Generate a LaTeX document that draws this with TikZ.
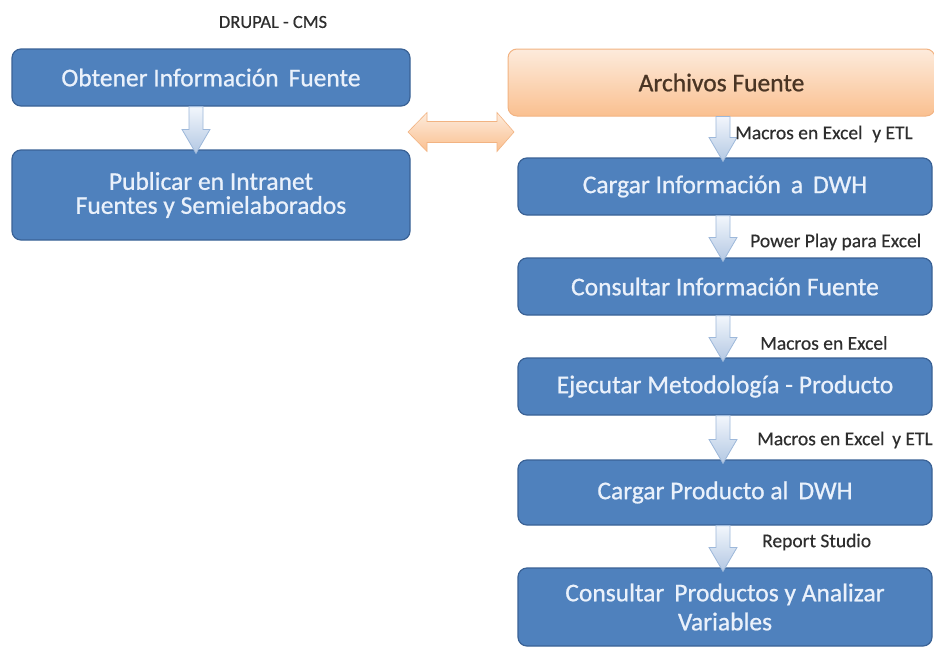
\documentclass[tikz,border=0pt]{standalone}
\usepackage{fontspec}
\setmainfont{Carlito}
\newfontfamily\boxfont{Carlito}[FakeBold=0.8]
\newfontfamily\notefont{Carlito}[FakeBold=0.4]
\usetikzlibrary{calc}

\definecolor{boxblue}{HTML}{4F81BD}
\definecolor{boxedge}{HTML}{3A6296}
\definecolor{boxtext}{HTML}{EAF1FB}
\definecolor{orgtop}{HTML}{FDEBDC}
\definecolor{orgbot}{HTML}{FAC090}
\definecolor{orgedge}{HTML}{F2B382}
\definecolor{orgtext}{HTML}{4A3524}
\definecolor{arrtop}{HTML}{F2F6FC}
\definecolor{arrbot}{HTML}{B3C8E3}
\definecolor{arredge}{HTML}{9DB8DA}
\definecolor{labgray}{HTML}{2E2E2E}

\tikzset{
  bluebox/.style={draw=boxedge, line width=1.2pt, fill=boxblue,
    rounded corners=9pt, text=boxtext, align=center, inner sep=0pt,
    font=\boxfont\fontsize{25.5}{24}\selectfont},
  orangebox/.style={draw=orgedge, line width=1pt, top color=orgtop,
    bottom color=orgbot, rounded corners=9pt, text=orgtext,
    inner sep=0pt, font=\boxfont\fontsize{25.5}{24}\selectfont},
  steplabel/.style={text=labgray, inner sep=0pt, anchor=west,
    font=\notefont\fontsize{19.5}{20}\selectfont},
  blockarrow/.style={draw=arredge, line width=0.8pt, top color=arrtop,
    bottom color=arrbot},
  sidearrow/.style={draw=orgedge, line width=0.6pt, top color=orgtop,
    bottom color=orgbot}
}

% down block arrow from the bottom of #1 into the top of #2, shifted by #3
\newcommand\flowdown[3]{%
  \draw[blockarrow] let \p1=(#1.south), \p2=(#2.north) in
    ($(\x2+#3-7pt,\y1)$) -- ($(\x2+#3+7pt,\y1)$)
    -- ($(\x2+#3+7pt,\y2+20pt)$) -- ($(\x2+#3+14pt,\y2+20pt)$)
    -- ($(\x2+#3,\y2-4pt)$)
    -- ($(\x2+#3-14pt,\y2+20pt)$) -- ($(\x2+#3-7pt,\y2+20pt)$) -- cycle;}

\begin{document}
\begin{tikzpicture}[x=1pt, y=-1pt]
  \useasboundingbox (0,0) rectangle (934,648);
  \clip (0,0) rectangle (934,648);
  \fill[white] (0,0) rectangle (934,648);

  % left column
  \node[text=labgray, font=\notefont\fontsize{18.5}{20}\selectfont] (drupal) at (273,22) {DRUPAL - CMS};
  \node[bluebox, minimum width=398pt, minimum height=57pt] (obtener) at (211,77.5)
    {Obtener Información\, Fuente};
  \node[bluebox, minimum width=398pt, minimum height=90pt] (publicar) at (211,195)
    {Publicar en Intranet\\Fuentes y Semielaborados};

  % right column
  \node[orangebox, minimum width=427pt, minimum height=67pt] (archivos) at (721.5,82.5)
    {\raisebox{-11pt}{Archivos Fuente}};
  \node[bluebox, minimum width=414pt, minimum height=57pt] (cargarinfo) at (725,186.5)
    {Cargar Información\, a\, DWH};
  \node[bluebox, minimum width=414pt, minimum height=57pt] (consultarinfo) at (725,286.5)
    {Consultar Información Fuente};
  \node[bluebox, minimum width=414pt, minimum height=57pt] (ejecutar) at (725,386.5)
    {Ejecutar Metodología - Producto};
  \node[bluebox, minimum width=414pt, minimum height=65pt] (cargarprod) at (725,492.5)
    {Cargar Producto al\, DWH};
  \node[bluebox, minimum width=414pt, minimum height=78pt,
        font=\boxfont\fontsize{25.5}{29}\selectfont] (analizar) at (725,607)
    {Consultar\, Productos y Analizar\\Variables};

  % flow arrows
  \flowdown{obtener}{publicar}{-15pt}
  \flowdown{archivos}{cargarinfo}{-2pt}
  \flowdown{cargarinfo}{consultarinfo}{-2pt}
  \flowdown{consultarinfo}{ejecutar}{-2pt}
  \flowdown{ejecutar}{cargarprod}{-2pt}
  \flowdown{cargarprod}{analizar}{-2pt}

  % tool labels beside the arrows
  \node[steplabel] (l1) at (735,134) {Macros en Excel\enspace y ETL};
  \node[steplabel] (l2) at (750,242) {Power Play para Excel};
  \node[steplabel] (l3) at (760,343) {Macros en Excel};
  \node[steplabel] (l4) at (757,440) {Macros en Excel\ \,y ETL};
  \node[steplabel] (l5) at (762,542) {Report Studio};

  % exchange arrow between the two columns
  \coordinate (exl) at (408,132);
  \coordinate (exr) at (514,132);
  \draw[sidearrow] let \p1=(exl), \p2=(exr) in
    (\x1,\y1) -- ($(\x1+19pt,\y1+19.5pt)$) -- ($(\x1+19pt,\y1+10.5pt)$)
    -- ($(\x2-17pt,\y1+10.5pt)$) -- ($(\x2-17pt,\y1+19.5pt)$) -- (\x2,\y2)
    -- ($(\x2-17pt,\y1-19.5pt)$) -- ($(\x2-17pt,\y1-10.5pt)$)
    -- ($(\x1+19pt,\y1-10.5pt)$) -- ($(\x1+19pt,\y1-19.5pt)$) -- cycle;
\end{tikzpicture}
\end{document}
